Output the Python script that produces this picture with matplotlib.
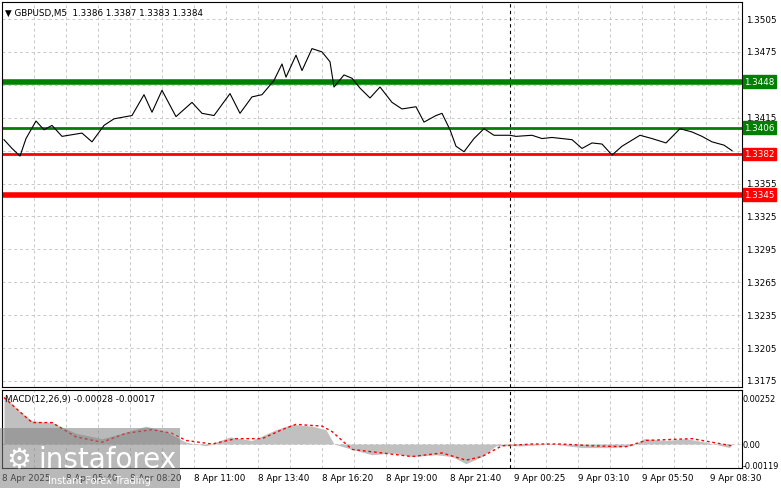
import matplotlib.pyplot as plt
import numpy as np

# price path: (bar index, price)
price_bar = [1, 5, 9, 12, 17, 21, 25, 30, 40, 45, 51, 56, 65, 71, 75, 80, 87, 95, 100, 106, 114, 119, 125, 130, 136, 140, 142, 147, 150, 155, 160, 164, 166, 171, 175, 179, 184, 189, 195, 200, 207, 211, 217, 220, 224, 227, 231, 236, 241, 246, 254, 257, 265, 270, 275, 285, 290, 295, 300, 305, 310, 319, 325, 332, 339, 345, 350, 355, 361, 365]
price_val = [1.3395, 1.3387, 1.3380, 1.3396, 1.3412, 1.3404, 1.3408, 1.3398, 1.3401, 1.3393, 1.3408, 1.3414, 1.3417, 1.3436, 1.3420, 1.3440, 1.3416, 1.3429, 1.3419, 1.3417, 1.3437, 1.3419, 1.3434, 1.3436, 1.3449, 1.3464, 1.3452, 1.3472, 1.3458, 1.3478, 1.3475, 1.3466, 1.3443, 1.3454, 1.3451, 1.3442, 1.3433, 1.3443, 1.3429, 1.3423, 1.3425, 1.3411, 1.3417, 1.3419, 1.3404, 1.3389, 1.3384, 1.3396, 1.3405, 1.3399, 1.3399, 1.3398, 1.3399, 1.3396, 1.3397, 1.3395, 1.3387, 1.3392, 1.3391, 1.3381, 1.3389, 1.3399, 1.3396, 1.3392, 1.3405, 1.3402, 1.3398, 1.3393, 1.3390, 1.3385]

hist_bar = [1, 8, 15, 25, 37, 50, 60, 72, 82, 92, 102, 114, 125, 137, 145, 155, 162, 166, 175, 185, 195, 205, 217, 225, 232, 240, 247, 260, 275, 290, 305, 315, 321, 332, 342, 352, 364]
hist_val = [0.0027, 0.0019, 0.0013, 0.0012, 0.0006, 0.0003, 0.0006, 0.0010, 0.0007, 0.0001, -0.0001, 0.0004, 0.0002, 0.0008, 0.0011, 0.0010, 0.0008, 0.0, -0.0003, -0.0006, -0.0005, -0.0007, -0.0006, -0.0007, -0.0011, -0.0007, -0.0001, -0.0001, 0.0, -0.0002, -0.0002, -0.0001, 0.0003, 0.0002, 0.0003, 0.0001, -0.0002]

sig_bar = [1, 15, 25, 37, 50, 62, 75, 85, 92, 105, 117, 130, 140, 147, 160, 165, 175, 190, 205, 220, 232, 240, 250, 265, 280, 295, 312, 322, 345, 355, 365]
sig_val = [0.0026, 0.0012, 0.0012, 0.0004, 0.0001, 0.0006, 0.0008, 0.0006, 0.0002, 0.0, 0.0003, 0.0003, 0.0008, 0.0011, 0.0010, 0.0007, -0.0003, -0.0005, -0.0007, -0.0005, -0.0009, -0.0007, -0.0001, 0.0, 0.0, -0.0001, -0.00015, 0.0002, 0.0003, 0.0001, -0.0001]

levels = [1.3448, 1.3406, 1.3382, 1.3345]
level_colors = ['#008000', '#008000', '#ff0000', '#ff0000']
level_widths = [4, 2, 2, 4]

price_ticks = [1.3505, 1.3475, 1.3415, 1.3355, 1.3325, 1.3295, 1.3265, 1.3235, 1.3205, 1.3175]
grid_ticks = [1.3505, 1.3475, 1.3445, 1.3415, 1.3385, 1.3355, 1.3325, 1.3295, 1.3265, 1.3235, 1.3205, 1.3175]
time_bar = [96, 128, 160, 192, 224, 256, 288, 320, 354]
time_labels = ['8 Apr 11:00', '8 Apr 13:40', '8 Apr 16:20', '8 Apr 19:00', '8 Apr 21:40',
               '9 Apr 00:25', '9 Apr 03:10', '9 Apr 05:50', '9 Apr 08:30']
early_bar = [0, 32, 64]
early_labels = ['8 Apr 2025', '8 Apr 05:40', '8 Apr 08:20']

W, H = 781, 489
fig = plt.figure(figsize=(W / 100, H / 100), dpi=100)
plt.rcParams['font.family'] = 'DejaVu Sans'
FS = 6.3
ax = fig.add_axes([2 / W, 1 - 388 / H, 740 / W, 385 / H])
ax2 = fig.add_axes([2 / W, 1 - 469 / H, 740 / W, 78 / H])

xmin, xmax = 0, 370
for a in (ax, ax2):
    a.set_xlim(xmin, xmax)
    a.set_xticks([])
    a.set_yticks([])
    for s in a.spines.values():
        s.set_linewidth(0.8)
    for g in range(16, 370, 16):
        a.axvline(g, color='#c8c8c8', lw=0.7, ls=(0, (3, 3)), zorder=0)
    a.axvline(254, color='black', lw=0.8, ls=(0, (3, 3)), zorder=1)

lo, hi = 1.31695, 1.35205
ax.set_ylim(lo, hi)
for t in grid_ticks:
    ax.axhline(t, color='#c8c8c8', lw=0.7, ls=(0, (3, 3)), zorder=0)
for t in price_ticks:
    ax.text(1.005, (t - lo) / (hi - lo), f'{t:.4f}', transform=ax.transAxes,
            fontsize=FS, va='center', ha='left')
ax.plot(price_bar, price_val, color='black', lw=0.8, zorder=3)
for lv, c, w in zip(levels, level_colors, level_widths):
    ax.axhline(lv, color=c, lw=w, zorder=2)
    ax.text(1.003, (lv - lo) / (hi - lo), f'{lv:.4f}', transform=ax.transAxes,
            fontsize=FS, va='center', ha='left', color='white', zorder=5,
            bbox=dict(facecolor=c, edgecolor=c, pad=1.2), clip_on=False)
ax.text(0.004, 0.985, '\u25bc GBPUSD,M5  1.3386 1.3387 1.3383 1.3384', transform=ax.transAxes,
        fontsize=FS, va='top', ha='left')

mlo, mhi = -0.00134, 0.00302
ax2.set_ylim(mlo, mhi)
ax2.axhline(0, color='#c8c8c8', lw=0.7, ls=(0, (3, 3)), zorder=0)
ax2.fill_between(hist_bar, hist_val, 0, color='#c0c0c0', lw=0, zorder=2)
ax2.plot(sig_bar, sig_val, color='red', lw=1, ls=(0, (2, 2)), zorder=3)
for v, s in [(0.00252, '0.00252'), (0.0, '0.00'), (-0.00119, '-0.00119')]:
    ax2.text(1.001, (v - mlo) / (mhi - mlo), s, transform=ax2.transAxes,
             fontsize=5.9, va='center', ha='left')
ax2.text(0.004, 0.95, 'MACD(12,26,9) -0.00028 -0.00017', transform=ax2.transAxes,
         fontsize=FS, va='top', ha='left')

for b, l in zip(early_bar + time_bar, early_labels + time_labels):
    ax2.text(b, -0.0016, l, fontsize=FS, va='top', ha='left', clip_on=False)

# watermark
fig.patches.append(plt.Rectangle((0, 0), 180 / W, 60 / H, transform=fig.transFigure,
                                 facecolor='#808080', alpha=0.55, zorder=10))
fig.text(6 / W, 1 - 460 / H, '\u2699', fontsize=20, color='white', va='center', zorder=11)
fig.text(38 / W, 1 - 460 / H, 'instaforex', fontsize=20, color='white', va='center', zorder=11)
fig.text(48 / W, 1 - 481 / H, 'Instant Forex Trading', fontsize=7, color='white', va='center', zorder=11)

fig.savefig('out.png', dpi=100)
